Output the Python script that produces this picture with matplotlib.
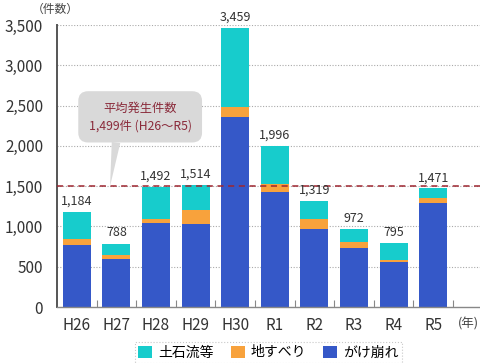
import matplotlib
matplotlib.use("Agg")
import matplotlib.pyplot as plt
import numpy as np

plt.rcParams['font.family'] = ['Noto Sans CJK JP', 'DejaVu Sans']

# Data (件数)
years = ['H26', 'H27', 'H28', 'H29', 'H30', 'R1', 'R2', 'R3', 'R4', 'R5']
gake = [770, 600, 1040, 1034, 2353, 1422, 970, 727, 558, 1293]      # がけ崩れ
jisuberi = [80, 44, 50, 172, 131, 107, 121, 76, 31, 54]            # 地すべり
dosekiryu = [334, 144, 402, 308, 975, 467, 228, 169, 206, 124]     # 土石流等
average = 1499

c_cyan = '#17cccc'
c_orange = '#f8a23c'
c_blue = '#3558c8'

fig = plt.figure(figsize=(4.8, 3.63), dpi=100)
ax = fig.add_axes([57 / 480, 1 - 307 / 363, 423 / 480, 282 / 363])

x = np.arange(len(years))
gake = np.array(gake)
jisuberi = np.array(jisuberi)
dosekiryu = np.array(dosekiryu)
totals = gake + jisuberi + dosekiryu

w = 0.71
ax.bar(x, gake, w, color=c_blue, label='がけ崩れ', zorder=2)
ax.bar(x, jisuberi, w, bottom=gake, color=c_orange, label='地すべり', zorder=2)
ax.bar(x, dosekiryu, w, bottom=gake + jisuberi, color=c_cyan,
       label='土石流等', zorder=2)

# total labels
for xi, t in zip(x, totals):
    ax.annotate(f'{t:,}', (xi, t), xytext=(0, 3), textcoords='offset points',
                ha='center', va='bottom', fontsize=9, color='#333333',
                annotation_clip=False, zorder=4)

# average line
ax.axhline(average, color='#9e2630', linestyle=(0, (4, 3)), linewidth=1.1,
           zorder=3)

# callout
ax.annotate('平均発生件数\n1,499件 (H26～R5)', xy=(0.84, average),
            xytext=(1.6, 2360), ha='center', va='center', fontsize=8.8,
            color='#8a2a3a', linespacing=1.45,
            bbox=dict(boxstyle='round,pad=0.85,rounding_size=0.8',
                      fc='#d9d9d9', ec='none'),
            arrowprops=dict(arrowstyle='wedge,tail_width=0.7', fc='#d9d9d9',
                            ec='none', shrinkA=0, shrinkB=0,
                            relpos=(0.28, 0.02)),
            zorder=3)

ax.set_xlim(-0.5, -0.5 + 423 / 39.6)
ax.set_ylim(0, 3500)
ax.set_yticks(np.arange(0, 3501, 500))
ax.set_yticklabels([f'{v:,}' for v in range(0, 3501, 500)])
ax.set_xticks(x)
ax.set_xticklabels(years)
ax.set_xticks(np.arange(0.5, 10, 1), minor=True)
ax.tick_params(axis='both', which='major', length=0, labelsize=11,
               colors='#333333')
ax.tick_params(axis='y', which='major', pad=10)
ax.tick_params(axis='x', which='major', pad=7)
ax.tick_params(axis='x', which='minor', length=5, direction='in',
               color='#888888', width=0.8)

for v in range(500, 3501, 500):
    ax.axhline(v, color='#aaaaaa', linestyle=(0, (1, 1.5)), linewidth=0.8,
               zorder=1)

ax.spines['top'].set_visible(False)
ax.spines['right'].set_visible(False)
ax.spines['left'].set_color('#555555')
ax.spines['left'].set_linewidth(1.4)
ax.spines['bottom'].set_color('#888888')
ax.spines['bottom'].set_linewidth(1.0)

fig.text(32 / 480, 1 - 9 / 363, '（件数）', fontsize=8.5, color='#444444',
         ha='left', va='center')
fig.text(458 / 480, 1 - 324 / 363, '(年)', fontsize=9, color='#444444',
         ha='left', va='center')

handles, labels = ax.get_legend_handles_labels()
order = [2, 1, 0]
leg = fig.legend([handles[i] for i in order], [labels[i] for i in order],
                 loc='upper left', bbox_to_anchor=(135 / 480, 1 - 342 / 363),
                 borderaxespad=0, ncol=3, fontsize=10, frameon=True,
                 handlelength=1.0, handleheight=1.0, handletextpad=0.45,
                 columnspacing=1.2, borderpad=0.25, fancybox=False)
leg.get_frame().set_edgecolor('#bbbbbb')
leg.get_frame().set_linestyle(':')
leg.get_frame().set_linewidth(0.8)

fig.savefig('out.png', dpi=100)
